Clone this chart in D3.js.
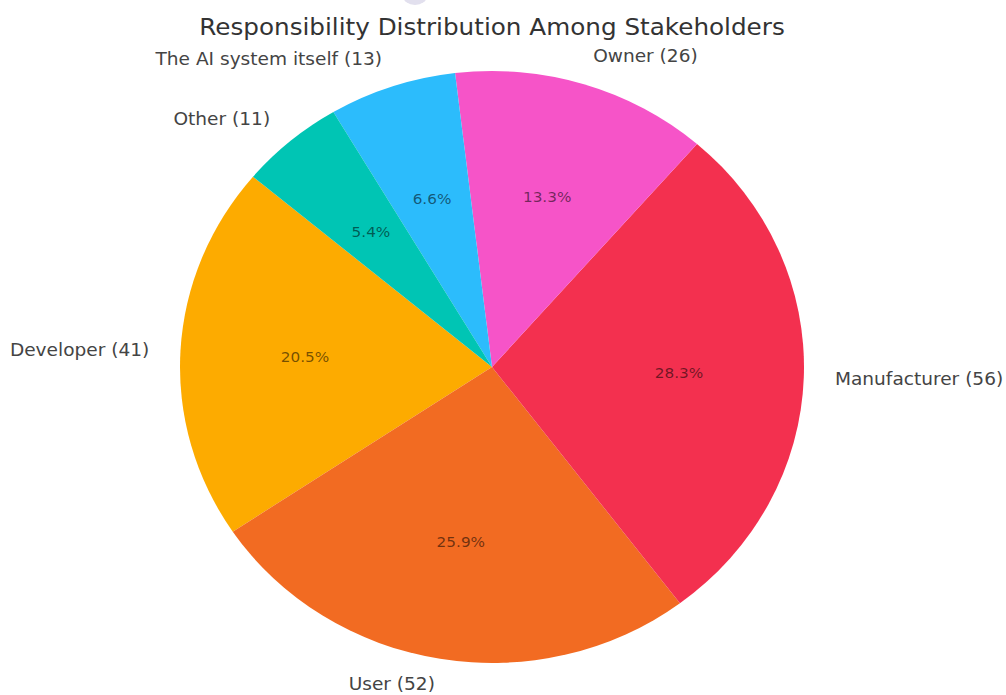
<!DOCTYPE html>
<html>
<head>
<meta charset="utf-8">
<script src="https://cdn.jsdelivr.net/npm/d3@7"></script>
<style>
  html, body { margin: 0; padding: 0; background: #fff; }
  svg { display: block; }
</style>
</head>
<body>
<svg id="chart" width="1006" height="695"></svg>
<script>
// Stakeholder categories, in drawing order (counter-clockwise from the start angle)
const categories = ["Developer", "User", "Manufacturer", "Owner", "The AI system itself", "Other"];
const counts     = [41, 52, 56, 26, 13, 11];
const percents   = [20.5, 25.9, 28.3, 13.3, 6.6, 5.4];
const colors     = ["#fdab00", "#f26b22", "#f3304f", "#f654c8", "#2cbcfc", "#00c5b4"];

const svg = d3.select("#chart");

const cx = 492, cy = 367;
const rx = 312, ry = 296;
const sx = rx / ry;          // horizontal stretch of the whole figure
const startDeg = 140;
const font = "DejaVu Sans, sans-serif";
const height = 695;

// Faint mark at the top edge
svg.append("ellipse")
  .attr("cx", 415).attr("cy", -4)
  .attr("rx", 12).attr("ry", 9)
  .attr("fill", "#e2e0ee");

function stretchedText(x, y) {
  return svg.append("text")
    .attr("transform", `translate(${x},${y}) scale(${sx},1)`)
    .attr("font-family", font);
}

// Title
stretchedText(cx, 35)
  .attr("text-anchor", "middle")
  .attr("font-size", 23.4)
  .attr("fill", "#333")
  .text("Responsibility Distribution Among Stakeholders");

// Pie layout: counter-clockwise, starting at 140° (math convention)
const pie = d3.pie()
  .value(d => d.pct)
  .sort(null)
  .startAngle(0)
  .endAngle(2 * Math.PI);

const data = categories.map((c, i) => ({ name: c, count: counts[i], pct: percents[i], color: colors[i] }));
const arcsData = pie(data);

// Math angle in degrees (counter-clockwise from +x axis)
function mathAngle(a) { return startDeg + a * 180 / Math.PI; }
// d3.arc angle (clockwise from 12 o'clock) for a math angle
function d3Angle(deg) { return (90 - deg) * Math.PI / 180; }

const arc = d3.arc().innerRadius(0).outerRadius(rx);

const g = svg.append("g")
  .attr("transform", `translate(${cx},${cy}) scale(1,${ry / rx})`);

g.selectAll("path")
  .data(arcsData)
  .join("path")
  .attr("d", d => {
    const a0 = mathAngle(d.startAngle), a1 = mathAngle(d.endAngle);
    return arc({ startAngle: d3Angle(a1), endAngle: d3Angle(a0) });
  })
  .attr("fill", d => d.data.color);

// Outer labels at 1.1 radius, percentage labels at 0.6 radius
arcsData.forEach(d => {
  const mid = (mathAngle(d.startAngle) + mathAngle(d.endAngle)) / 2 * Math.PI / 180;
  const ux = Math.cos(mid), uy = Math.sin(mid);

  // keep the lowest label inside the canvas
  const ly = Math.min(cy - 1.1 * ry * uy, height - 11);

  stretchedText(cx + 1.1 * rx * ux, ly)
    .attr("dy", "0.35em")
    .attr("text-anchor", ux < 0 ? "end" : "start")
    .attr("font-size", 17.6)
    .attr("fill", "#444")
    .text(`${d.data.name} (${d.data.count})`);

  stretchedText(cx + 0.6 * rx * ux, cy - 0.6 * ry * uy)
    .attr("dy", "0.35em")
    .attr("text-anchor", "middle")
    .attr("font-size", 14.5)
    .attr("fill", "#000")
    .attr("fill-opacity", 0.55)
    .text(`${d.data.pct.toFixed(1)}%`);
});
</script>
</body>
</html>
